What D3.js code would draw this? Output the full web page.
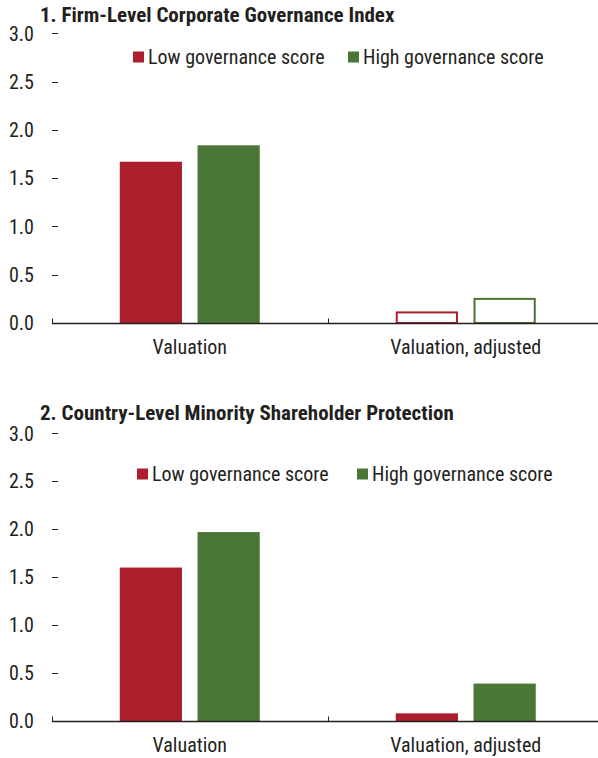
<!DOCTYPE html>
<html><head><meta charset="utf-8">
<script src="https://cdn.jsdelivr.net/npm/d3@7"></script>
<style>
body{margin:0;background:#fff;}
text{font-family:"Liberation Sans Narrow","Arial Narrow","Roboto Condensed",sans-serif;fill:#231f20;}
</style></head>
<body><svg id="c" width="598" height="758"></svg>
<script>
const categories = ["Valuation", "Valuation, adjusted"];
const seriesNames = ["Low governance score", "High governance score"];
const seriesColors = ["#ab1f2d", "#4a7636"];
const yTickValues = [0, 0.5, 1.0, 1.5, 2.0, 2.5, 3.0];
const panelTitles = ["1. Firm-Level Corporate Governance Index", "2. Country-Level Minority Shareholder Protection"];
const panel1Low = [1.67, 0.12];
const panel1High = [1.84, 0.26];
const panel1Outlined = [false, true];
const panel2Low = [1.60, 0.08];
const panel2High = [1.97, 0.39];
const panel2Outlined = [false, false];

const panels = [
  {title: panelTitles[0], low: panel1Low, high: panel1High, outlined: panel1Outlined,
   titleY: 22, top: 33.3, bottom: 323, legendY: 57, legendX: [133, 348]},
  {title: panelTitles[1], low: panel2Low, high: panel2High, outlined: panel2Outlined,
   titleY: 420, top: 433.3, bottom: 721, legendY: 474, legendX: [137, 357]}
];

const svg = d3.select("#c");
const x0 = d3.scaleBand().domain(categories).range([51.75, 603.75]).paddingInner(0).paddingOuter(0);
const GW = 140;
const x1 = d3.scaleBand().domain(seriesNames).range([0, GW]).paddingInner(0.2).paddingOuter(0);
const groupOffset = (x0.bandwidth() - GW) / 2;
const FS = 20;

panels.forEach(p => {
  const g = svg.append("g");
  const y = d3.scaleLinear().domain([0, 3]).range([p.bottom, p.top]);

  g.append("text").attr("x", 40).attr("y", p.titleY)
    .attr("font-size", 21).attr("font-weight", "bold").text(p.title);

  yTickValues.forEach(v => {
    g.append("text").attr("x", 34).attr("y", y(v)).attr("dy", "0.36em")
      .attr("text-anchor", "end").attr("font-size", FS).text(d3.format(".1f")(v));
    if (v > 0) {
      g.append("line").attr("x1", 52).attr("x2", 58).attr("y1", Math.round(y(v)) + 0.5).attr("y2", Math.round(y(v)) + 0.5)
        .attr("stroke", "#231f20").attr("stroke-width", 1);
    }
  });

  const values = [p.low, p.high];
  categories.forEach((c, ci) => {
    seriesNames.forEach((s, si) => {
      const v = values[si][ci];
      const bx = x0(c) + groupOffset + x1(s);
      const bw = x1.bandwidth();
      if (p.outlined[ci]) {
        g.append("rect").attr("x", bx + 1).attr("y", y(v) + 1).attr("width", bw - 2)
          .attr("height", Math.max(0, y(0) - y(v) - 1)).attr("fill", "#fff")
          .attr("stroke", seriesColors[si]).attr("stroke-width", 2);
      } else {
        g.append("rect").attr("x", bx).attr("y", y(v)).attr("width", bw)
          .attr("height", y(0) - y(v)).attr("fill", seriesColors[si]);
      }
    });
    g.append("text").attr("x", x0(c) + x0.bandwidth() / 2).attr("y", p.bottom + 30.5)
      .attr("text-anchor", "middle").attr("font-size", FS).text(c);
  });

  const ay = Math.round(p.bottom) + 0.5;
  g.append("line").attr("x1", 52).attr("x2", 598).attr("y1", ay).attr("y2", ay)
    .attr("stroke", "#231f20").attr("stroke-width", 1.3);
  g.append("line").attr("x1", 52.5).attr("x2", 52.5).attr("y1", ay - 5).attr("y2", ay)
    .attr("stroke", "#231f20").attr("stroke-width", 1);
  const sep = Math.round(x0(categories[1])) + 0.5;
  g.append("line").attr("x1", sep).attr("x2", sep).attr("y1", ay - 5).attr("y2", ay)
    .attr("stroke", "#231f20").attr("stroke-width", 1);

  seriesNames.forEach((s, si) => {
    const lx = p.legendX[si];
    g.append("rect").attr("x", lx).attr("y", p.legendY - 5.5).attr("width", 11).attr("height", 11).attr("fill", seriesColors[si]);
    g.append("text").attr("x", lx + 15).attr("y", p.legendY).attr("dy", "0.36em")
      .attr("font-size", FS).text(s);
  });
});
</script></body></html>
